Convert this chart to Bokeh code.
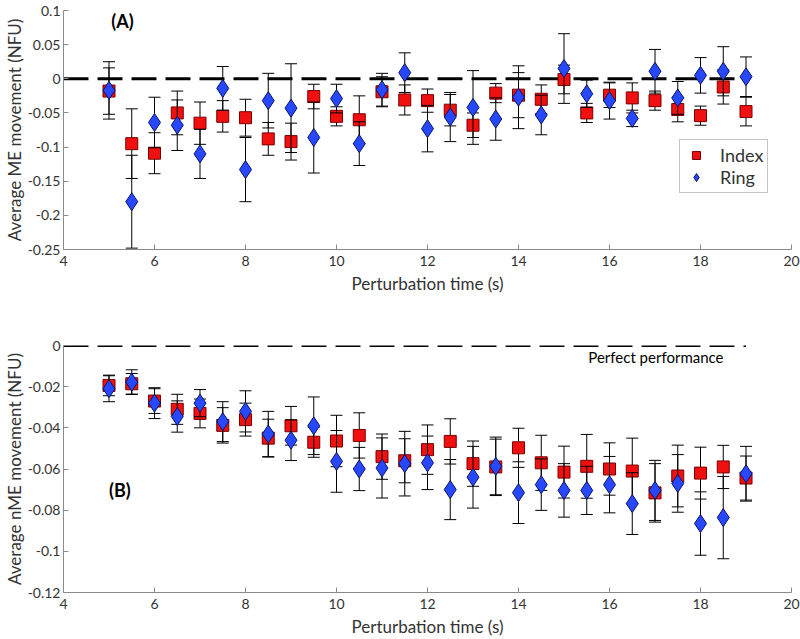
from bokeh.plotting import figure
from bokeh.layouts import column
from bokeh.models import ColumnDataSource, FixedTicker, NumeralTickFormatter, Label, Range1d
from bokeh.embed import file_html
from bokeh.resources import INLINE

# ---------------- data ----------------
times = [5, 5.5, 6, 6.5, 7, 7.5, 8, 8.5, 9, 9.5, 10, 10.5, 11, 11.5, 12, 12.5,
         13, 13.5, 14, 14.5, 15, 15.5, 16, 16.5, 17, 17.5, 18, 18.5, 19]

# Panel A : ME movement
a_index = [-0.018, -0.095, -0.109, -0.050, -0.065, -0.055, -0.057, -0.088, -0.092, -0.026,
           -0.055, -0.060, -0.019, -0.031, -0.032, -0.046, -0.068, -0.021, -0.024, -0.030,
           -0.001, -0.050, -0.024, -0.028, -0.032, -0.045, -0.054, -0.012, -0.048]
a_index_err = [0.034, 0.051, 0.030, 0.032, 0.031, 0.023, 0.027, 0.024, 0.027, 0.018,
               0.014, 0.035, 0.022, 0.022, 0.017, 0.023, 0.018, 0.014, 0.033, 0.021,
               0.021, 0.014, 0.018, 0.022, 0.014, 0.018, 0.014, 0.025, 0.021]
a_ring = [-0.017, -0.180, -0.064, -0.068, -0.110, -0.014, -0.133, -0.032, -0.043, -0.086,
          -0.029, -0.095, -0.016, 0.009, -0.073, -0.056, -0.042, -0.059, -0.027, -0.053,
          0.015, -0.022, -0.032, -0.058, 0.011, -0.028, 0.005, 0.011, 0.003]
a_ring_err = [0.042, 0.068, 0.037, 0.037, 0.036, 0.032, 0.047, 0.040, 0.065, 0.052,
              0.021, 0.032, 0.024, 0.029, 0.034, 0.036, 0.054, 0.031, 0.046, 0.029,
              0.051, 0.020, 0.027, 0.012, 0.032, 0.024, 0.026, 0.036, 0.029]

# Panel B : nME movement
b_index = [-0.0194, -0.0186, -0.0270, -0.0310, -0.0330, -0.0388, -0.0360, -0.0450, -0.0390, -0.0470,
           -0.0464, -0.0437, -0.0540, -0.0560, -0.0506, -0.0466, -0.0574, -0.0590, -0.0497, -0.0570,
           -0.0615, -0.0587, -0.0600, -0.0610, -0.0716, -0.0634, -0.0620, -0.0590, -0.0644]
b_index_err = [0.0050, 0.0050, 0.0060, 0.0073, 0.0070, 0.0086, 0.0080, 0.0092, 0.0094, 0.0073,
               0.0125, 0.0110, 0.0110, 0.0107, 0.0120, 0.0110, 0.0110, 0.0135, 0.0095, 0.0134,
               0.0126, 0.0155, 0.0127, 0.0160, 0.0142, 0.0150, 0.0126, 0.0105, 0.0107]
b_ring = [-0.0210, -0.0178, -0.0280, -0.0345, -0.0280, -0.0370, -0.0320, -0.0430, -0.0460, -0.0390,
          -0.0563, -0.0600, -0.0595, -0.0574, -0.0570, -0.0700, -0.0640, -0.0587, -0.0715, -0.0676,
          -0.0704, -0.0704, -0.0676, -0.0768, -0.0704, -0.0670, -0.0865, -0.0836, -0.0623]
b_ring_err = [0.0063, 0.0060, 0.0075, 0.0076, 0.0066, 0.0097, 0.0100, 0.0110, 0.0099, 0.0140,
              0.0150, 0.0105, 0.0146, 0.0157, 0.0130, 0.0146, 0.0150, 0.0142, 0.0150, 0.0125,
              0.0130, 0.0117, 0.0137, 0.0150, 0.0146, 0.0140, 0.0154, 0.0200, 0.0133]

# reference (perfect performance) line
ref_x = [4, 19]
ref_y = [0, 0]

x_ticks = [4, 6, 8, 10, 12, 14, 16, 18, 20]
a_yticks = [0.1, 0.05, 0, -0.05, -0.1, -0.15, -0.2, -0.25]
b_yticks = [0, -0.02, -0.04, -0.06, -0.08, -0.1, -0.12]

FONT = "Lato"
RED = "#F01010"
RED_LINE = "#7a0000"
BLUE = "#2748FF"
BLUE_LINE = "#0a1560"
AXIS = "#8a8a8a"
TXT = "#333333"


def make_panel(height, yr, yticks, ylabel, idx, idx_err, ring, ring_err,
               border_top, border_bottom, legend):
    p = figure(width=800, height=height, output_backend="svg", toolbar_location=None,
               x_range=Range1d(4, 20), y_range=Range1d(*yr),
               min_border_left=60, min_border_right=9,
               min_border_top=border_top, min_border_bottom=border_bottom)
    p.outline_line_color = None
    p.grid.visible = False
    p.background_fill_color = "white"

    for ax in (p.xaxis[0], p.yaxis[0]):
        ax.axis_line_color = AXIS
        ax.major_tick_line_color = AXIS
        ax.major_tick_in = 5
        ax.major_tick_out = 0
        ax.minor_tick_line_color = None
        ax.major_label_text_font = FONT
        ax.major_label_text_font_size = "14px"
        ax.major_label_text_color = TXT
        ax.axis_label_text_font = FONT
        ax.axis_label_text_font_size = "17px"
        ax.axis_label_text_font_style = "normal"
        ax.axis_label_text_color = TXT
    p.yaxis.major_label_standoff = 3
    p.yaxis.axis_label_standoff = 0
    p.xaxis.major_label_standoff = 6
    p.xaxis.axis_label_standoff = 4

    p.xaxis.ticker = FixedTicker(ticks=x_ticks)
    p.yaxis.ticker = FixedTicker(ticks=yticks)
    p.yaxis.formatter = NumeralTickFormatter(format="0.[00]")
    p.xaxis.axis_label = "Perturbation time (s)"
    p.yaxis.axis_label = ylabel

    # perfect performance line
    p.line(ref_x, ref_y, line_color="black", line_width=3, line_dash="25 9")

    def series(vals, errs, fill, edge, marker, size, label):
        lo = [v - e for v, e in zip(vals, errs)]
        hi = [v + e for v, e in zip(vals, errs)]
        src = ColumnDataSource(dict(x=times, y=vals, lo=lo, hi=hi))
        p.segment(x0="x", y0="lo", x1="x", y1="hi", source=src, line_color="black", line_width=1)
        p.scatter(x="x", y="lo", source=src, marker="dash", size=12, line_color="black", line_width=1)
        p.scatter(x="x", y="hi", source=src, marker="dash", size=12, line_color="black", line_width=1)
        kw = dict(legend_label=label) if legend else {}
        p.scatter(x="x", y="y", source=src, marker=marker, size=size, fill_color=fill,
                  line_color=edge, line_width=1, **kw)

    series(idx, idx_err, RED, RED_LINE, "square", 12, "Index")
    series(ring, ring_err, BLUE, BLUE_LINE, "diamond", 18, "Ring")
    return p


pA = make_panel(300, (-0.25, 0.1), a_yticks, "Average ME movement (NFU)",
                a_index, a_index_err, a_ring, a_ring_err, 10, 51, True)
pB = make_panel(339, (-0.12, 0.0), b_yticks, "Average nME movement (NFU)",
                b_index, b_index_err, b_ring, b_ring_err, 45, 47, False)

leg = pA.legend[0]
leg.location = (616, 56)
leg.label_text_font = FONT
leg.label_text_font_size = "18px"
leg.label_text_color = TXT
leg.glyph_height = 20
leg.glyph_width = 24
leg.label_height = 18
leg.label_standoff = 12
leg.spacing = -2
leg.padding = 4
leg.margin = 0
leg.border_line_color = "#8c8c8c"
leg.border_line_width = 1
leg.background_fill_alpha = 1.0

pA.add_layout(Label(x=5.05, y=0.084, text="(A)", text_font=FONT, text_font_size="18px",
                    text_font_style="bold", text_color="black", text_baseline="middle"))
pB.add_layout(Label(x=5.0, y=-0.0704, text="(B)", text_font=FONT, text_font_size="18px",
                    text_font_style="bold", text_color="black", text_baseline="middle"))
pB.add_layout(Label(x=17.02, y=-0.0055, text="Perfect performance", text_font=FONT,
                    text_font_size="15px", text_color="black", text_align="center",
                    text_baseline="middle"))

layout = column(pA, pB)
open("out.html", "w").write(file_html(layout, INLINE))
